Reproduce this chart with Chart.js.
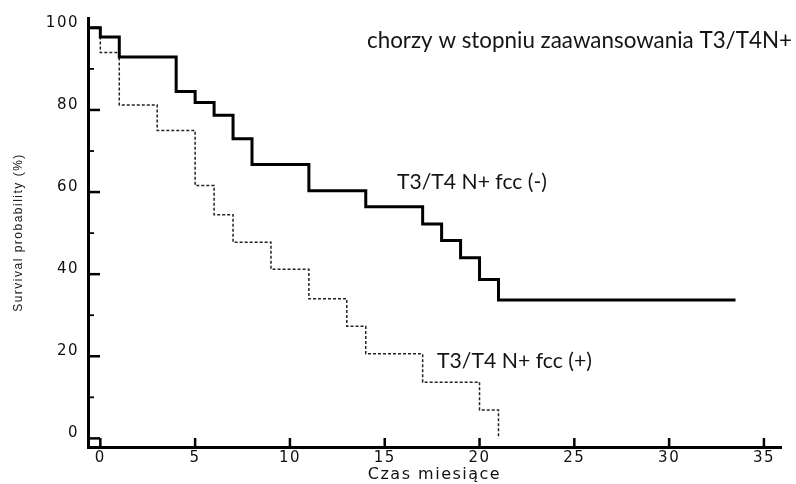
<!DOCTYPE html>
<html>
<head>
<meta charset="utf-8">
<script src="https://cdn.jsdelivr.net/npm/chart.js@4.4.1/dist/chart.umd.min.js"></script>
<style>
  html, body { margin: 0; padding: 0; background: #fff; }
</style>
</head>
<body>
<canvas id="km" width="796" height="484"></canvas>
<script>
// Kaplan-Meier steps (months, survival %)
const negTimes = [-0.6, 0, 1, 4, 5, 6, 7, 8, 11, 14, 17, 18, 19, 20, 21, 33.5];
const negSurv  = [100, 97.8, 92.9, 84.5, 81.8, 78.7, 73.0, 66.7, 60.3, 56.4, 52.2, 48.2, 44.0, 38.7, 33.7, 33.7];
const posTimes = [-0.6, 0, 1, 3, 5, 6, 7, 9, 11, 13, 14, 17, 20, 21];
const posSurv  = [100, 94.0, 81.2, 75.0, 61.6, 54.5, 47.8, 41.2, 34.0, 27.3, 20.6, 13.7, 6.9, 0];

const xTicks = [0, 5, 10, 15, 20, 25, 30, 35];
const yTicks = [0, 20, 40, 60, 80, 100];
const yMinorTicks = [10, 30, 50, 70, 90];

const chartTitle = "chorzy w stopniu zaawansowania T3/T4N+";
const negLabel = "T3/T4 N+ fcc (-)";
const posLabel = "T3/T4 N+ fcc (+)";

function toPoints(xs, ys) {
    return xs.map((x, i) => ({ x: x, y: ys[i] }));
}

// the axis texts of the original are spread out a little
const spacing = {
    id: "spacing",
    beforeDraw(chart) { chart.ctx.letterSpacing = "1.5px"; },
    afterDraw(chart) { chart.ctx.letterSpacing = "0px"; }
};

// ticks pointing into the plot, like the original
const innerTicks = {
    id: "innerTicks",
    afterDraw(chart) {
        const ctx = chart.ctx;
        const xs = chart.scales.x, ys = chart.scales.y;
        const left = chart.chartArea.left, bottom = chart.chartArea.bottom;
        ctx.save();
        ctx.strokeStyle = "#000";
        ctx.lineWidth = 2.5;
        yTicks.forEach(v => {
            const py = ys.getPixelForValue(v);
            ctx.beginPath(); ctx.moveTo(left, py); ctx.lineTo(left + 12, py); ctx.stroke();
        });
        ctx.lineWidth = 1.8;
        yMinorTicks.forEach(v => {
            const py = ys.getPixelForValue(v);
            ctx.beginPath(); ctx.moveTo(left, py); ctx.lineTo(left + 6, py); ctx.stroke();
        });
        ctx.lineWidth = 2.5;
        xTicks.forEach(v => {
            const px = xs.getPixelForValue(v);
            ctx.beginPath(); ctx.moveTo(px, bottom); ctx.lineTo(px, bottom - 9); ctx.stroke();
        });
        ctx.restore();
    }
};

function fitText(ctx, text, x, y, w, family) {
    ctx.font = "100px " + family;
    const size = 100 * w / ctx.measureText(text).width;
    ctx.font = size.toFixed(2) + "px " + family;
    ctx.fillText(text, x, y);
}

const notes = {
    id: "notes",
    afterDraw(chart) {
        const ctx = chart.ctx;
        ctx.save();
        ctx.letterSpacing = "0px";
        ctx.fillStyle = "#141414";
        ctx.textBaseline = "alphabetic";
        ctx.textAlign = "left";
        fitText(ctx, chartTitle, 367, 48, 425, "Lato");
        fitText(ctx, negLabel, 397, 189, 150, "Lato");
        fitText(ctx, posLabel, 437, 368, 155, "Lato");
        ctx.restore();
    }
};

const ctx = document.getElementById("km").getContext("2d");
new Chart(ctx, {
    type: "line",
    data: {
        datasets: [
            {
                label: negLabel,
                data: toPoints(negTimes, negSurv),
                stepped: "before",
                borderColor: "#000",
                borderWidth: 3,
                pointRadius: 0,
                fill: false
            },
            {
                label: posLabel,
                data: toPoints(posTimes, posSurv),
                stepped: "before",
                borderColor: "#222",
                borderWidth: 1.5,
                borderDash: [3, 2],
                pointRadius: 0,
                fill: false
            }
        ]
    },
    options: {
        responsive: false,
        animation: false,
        layout: { padding: { top: 15, right: 15, left: 0, bottom: 0 } },
        plugins: {
            legend: { display: false },
            tooltip: { enabled: false }
        },
        scales: {
            x: {
                type: "linear",
                min: -0.65,
                max: 35.9,
                afterBuildTicks: s => { s.ticks = xTicks.map(v => ({ value: v })); },
                afterFit: s => { s.height = 37; },
                grid: { display: false, drawTicks: false },
                border: { display: true, color: "#000", width: 3 },
                ticks: {
                    color: "#111",
                    padding: 2,
                    maxRotation: 0,
                    font: { family: "DejaVu Sans", size: 15 }
                },
                title: {
                    display: true,
                    text: "Czas miesiące",
                    color: "#111",
                    padding: { top: 0, bottom: 0 },
                    font: { family: "DejaVu Sans", size: 16 }
                }
            },
            y: {
                min: -2.1,
                max: 102.4,
                afterBuildTicks: s => { s.ticks = yTicks.map(v => ({ value: v })); },
                afterFit: s => { s.width = 88; },
                grid: { display: false, drawTicks: false },
                border: { display: true, color: "#000", width: 3 },
                ticks: {
                    color: "#111",
                    padding: 9,
                    labelOffset: -5,
                    font: { family: "DejaVu Sans", size: 15 }
                },
                title: {
                    display: true,
                    text: "Survival probability (%)",
                    color: "#111",
                    padding: { top: 11, bottom: 0 },
                    font: { family: "Liberation Sans", size: 12 }
                }
            }
        }
    },
    plugins: [spacing, innerTicks, notes]
});
</script>
</body>
</html>
